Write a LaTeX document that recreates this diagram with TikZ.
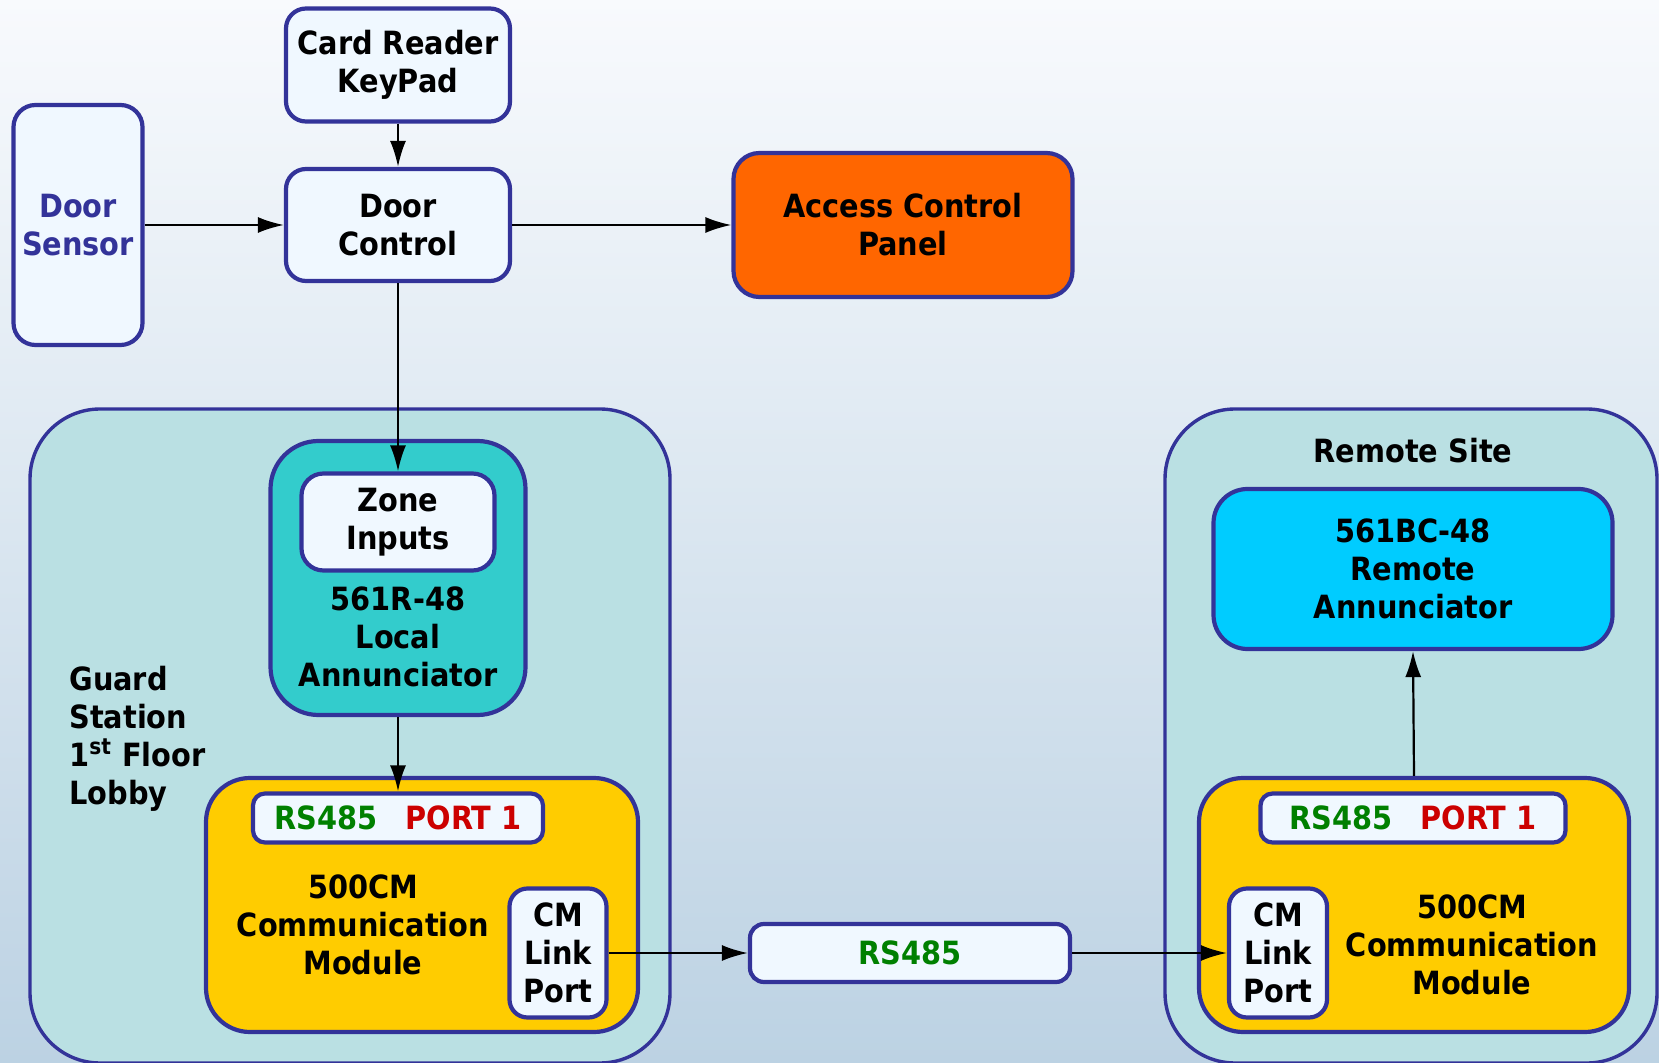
\documentclass[tikz,border=0pt]{standalone}
\usepackage{fontspec}
\setmainfont{DejaVu Sans Condensed}
\usetikzlibrary{arrows.meta}
\definecolor{bord}{HTML}{333399}
\definecolor{lightbox}{HTML}{F0F8FF}
\definecolor{bgtop}{HTML}{F8FAFD}
\definecolor{bgbot}{HTML}{BCD2E3}
\definecolor{cont}{HTML}{BAE0E3}
\definecolor{teal}{HTML}{33CCCC}
\definecolor{orng}{HTML}{FF6600}
\definecolor{yel}{HTML}{FFCC00}
\definecolor{cyn}{HTML}{00CCFF}
\definecolor{rsgreen}{HTML}{008000}
\definecolor{portred}{HTML}{CC0000}
\begin{document}
\begin{tikzpicture}[x=0.5pt,y=-0.5pt,
  txt/.style={font=\bfseries\fontsize{16}{19}\selectfont, align=center, inner sep=0pt},
  box/.style={txt, draw=bord, line width=2.1pt, rounded corners=10pt, fill=lightbox},
  container/.style={draw=bord, line width=1.7pt, rounded corners=35pt, fill=cont, inner sep=0pt},
  arr/.style={line width=1.1pt, -{Latex[length=13pt,width=8pt]}}]
\shade[top color=bgtop,bottom color=bgbot] (0,0) rectangle (1659,1063);
\useasboundingbox (0,0) rectangle (1659,1063);
% containers
\node[container, minimum width=320pt, minimum height=327pt] (guard) at (350,736) {};
\node[container, minimum width=246pt, minimum height=327pt] (remote) at (1411,736) {};
% top row
\node[box, minimum width=112pt, minimum height=56.5pt] (card) at (398,65) {Card Reader\\KeyPad};
\node[box, minimum width=112pt, minimum height=56pt] (doorctl) at (398,225) {Door\\Control};
\node[box, minimum width=64.5pt, minimum height=120pt, rounded corners=11pt, text=bord] (sensor) at (78,225) {Door\\Sensor};
\node[box, minimum width=169.5pt, minimum height=72pt, rounded corners=13pt, fill=orng] (acp) at (903,225) {Access Control\\Panel};
% guard station
\node[txt, align=left, anchor=west] (guardtxt) at (69,739) {Guard\\Station\\1\textsuperscript{st} Floor\\Lobby};
\node[box, minimum width=127.5pt, minimum height=137pt, rounded corners=24pt, fill=teal] (r561) at (398,578) {};
\node[box, minimum width=96.5pt, minimum height=48.5pt, rounded corners=11pt] (zone) at (398,522) {Zone\\Inputs};
\node[txt] (r561txt) at (398,637) {561R-48\\Local\\Annunciator};
\node[box, minimum width=216pt, minimum height=127pt, rounded corners=22pt, fill=yel] (cmL) at (422,905) {};
\node[box, minimum width=145pt, minimum height=24.5pt, rounded corners=6pt] (portL) at (398,818) {\textcolor{rsgreen}{RS485}\hspace{14pt}\textcolor{portred}{PORT 1}};
\node[txt] (cmLtxt) at (363,925) {500CM\\Communication\\Module};
\node[box, minimum width=48.5pt, minimum height=64.5pt, rounded corners=9pt] (linkL) at (558,953) {CM\\Link\\Port};
% middle
\node[box, minimum width=160pt, minimum height=29pt, rounded corners=7pt, text=rsgreen] (rsmid) at (910,953) {RS485};
% remote site
\node[txt] (remotetxt) at (1413,451) {Remote Site};
\node[box, minimum width=199.5pt, minimum height=80pt, rounded corners=17pt, fill=cyn] (bc561) at (1413,569) {561BC-48\\Remote\\Annunciator};
\node[box, minimum width=215pt, minimum height=127pt, rounded corners=22pt, fill=yel] (cmR) at (1414,905) {};
\node[box, minimum width=152.5pt, minimum height=24.5pt, rounded corners=6pt] (portR) at (1413,818) {\textcolor{rsgreen}{RS485}\hspace{14pt}\textcolor{portred}{PORT 1}};
\node[txt] (cmRtxt) at (1472,945) {500CM\\Communication\\Module};
\node[box, minimum width=49pt, minimum height=64.5pt, rounded corners=9pt] (linkR) at (1278,953) {CM\\Link\\Port};
% connectors
\draw[arr] (card.south) -- (doorctl.north);
\draw[arr] (sensor.east) -- (doorctl.west);
\draw[arr] (doorctl.east) -- (acp.west);
\draw[arr] (doorctl.south) -- (zone.north);
\draw[arr] (r561.south) -- (portL.north);
\draw[arr] (cmR.north) -- (bc561.south);
\draw[arr] (linkL.east) -- (rsmid.west);
\draw[arr] (rsmid.east) -- (linkR.west);
\end{tikzpicture}
\end{document}
